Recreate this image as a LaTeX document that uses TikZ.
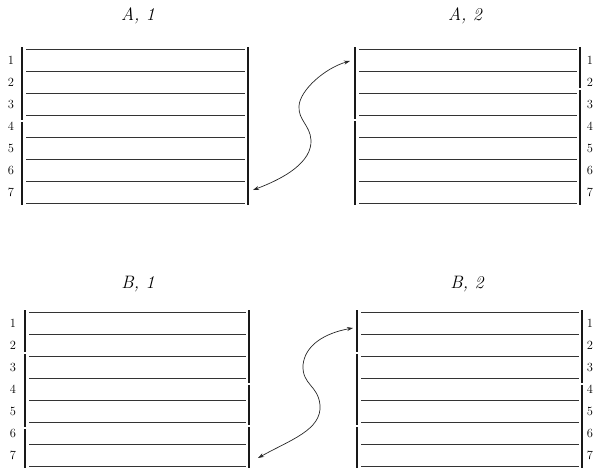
\documentclass[tikz,border=0pt]{standalone}
\usetikzlibrary{arrows.meta}
\begin{document}
\begin{tikzpicture}[x=1pt, y=-1pt,
    rule/.style={line width=0.6pt, black!80},
    bar/.style={line width=1.7pt, black!90},
    num/.style={font=\fontsize{12.5}{14}\selectfont},
    title/.style={font=\fontsize{18}{20}\selectfont\itshape},
    link/.style={line width=0.7pt, black!85, {Stealth[length=6pt,width=4pt]}-{Stealth[length=6pt,width=4pt]}}]
  \useasboundingbox (0,0) rectangle (596,467);
  % titles
  \node[title] (tA1) at (138,16) {A, 1};
  \node[title] (tA2) at (465,16) {A, 2};
  \node[title] (tB1) at (138,284) {B, 1};
  \node[title] (tB2) at (467,284) {B, 2};
  % ruled lines of the four staves
  \foreach \l/\r/\t in {22/248/49, 355/580/49, 25/249/312, 357/582/312} {
    \foreach \k in {0,...,7}
      \draw[rule] (\l+4,\t+22*\k) -- (\r-3,\t+22*\k);
  }
  % bars (broken where the print breaks them)
  \foreach \x/\a/\b in {22/47/120, 22/122/205, 248/47/205,
                        355/47/119, 355/121/205, 580/47/88, 580/90/205,
                        25/310/352, 25/354/427, 25/429/468, 249/310/383, 249/385/425, 249/427/468,
                        357/310/352, 357/354/425, 357/427/468, 582/310/383, 582/385/468}
    \draw[bar] (\x,\a) -- (\x,\b);
  % line numbers
  \foreach \k in {1,...,7} {
    \node[num] (nA1\k) at (11,38+22*\k) {\k};
    \node[num] (nA2\k) at (590,38+22*\k) {\k};
    \node[num] (nB1\k) at (13,301+22*\k) {\k};
    \node[num] (nB2\k) at (590,301+22*\k) {\k};
  }
  % exchange arrows
  \coordinate (aA1) at (253,190);
  \coordinate (aA2) at (350,61);
  \coordinate (aB1) at (258,458);
  \coordinate (aB2) at (353,328);
  \draw[link] (aA1) .. controls (285,178) and (312,162) .. (311,140)
    .. controls (310,125) and (298,120) .. (299,106)
    .. controls (300,90) and (325,68) .. (aA2);
  \draw[link] (aB1) .. controls (290,440) and (322,430) .. (320,405)
    .. controls (318,385) and (302,385) .. (303,365)
    .. controls (305,345) and (325,333) .. (aB2);
\end{tikzpicture}
\end{document}
